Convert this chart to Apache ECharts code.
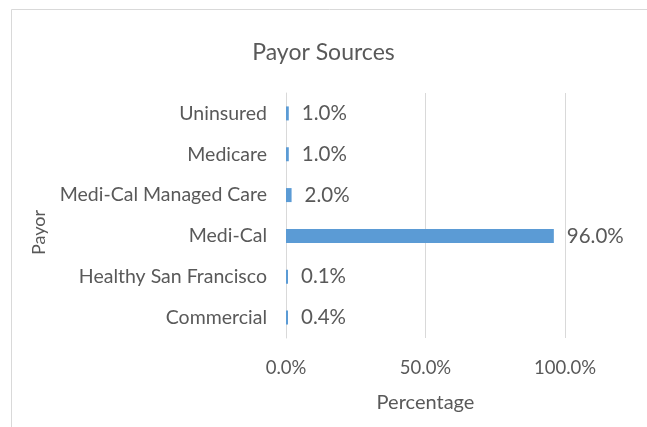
<!DOCTYPE html>
<html>
<head>
<meta charset="utf-8">
<script src="https://cdn.jsdelivr.net/npm/echarts@6/dist/echarts.min.js"></script>
<style>
    html, body { margin: 0; padding: 0; background: #fff; }
    #chart { width: 647px; height: 427px; }
</style>
</head>
<body>
<div id="chart"></div>
<script>
    // 付款来源数据（从下到上）
    var payors = ['Commercial', 'Healthy San Francisco', 'Medi-Cal', 'Medi-Cal Managed Care', 'Medicare', 'Uninsured'];
    var percents = [0.4, 0.1, 96.0, 2.0, 1.0, 1.0];
    var xTicks = [0, 50, 100];

    var textColor = '#595959';
    var font = 'Lato';

    var myChart = echarts.init(document.getElementById('chart'));
    myChart.setOption({
        backgroundColor: '#fff',
        textStyle: { fontFamily: font },
        title: {
            text: 'Payor Sources',
            left: 'center',
            top: 36,
            textStyle: { fontFamily: font, fontSize: 23, fontWeight: 'normal', color: textColor }
        },
        // 图表外框（只露出上边和左边）
        graphic: [{
            type: 'rect',
            shape: { x: 11.5, y: 9.5, width: 700, height: 500 },
            style: { fill: 'none', stroke: '#d9d9d9', lineWidth: 1 },
            silent: true
        }],
        grid: { left: 286, right: 82, top: 93, bottom: 89 },
        xAxis: {
            type: 'value',
            min: xTicks[0],
            max: xTicks[xTicks.length - 1],
            interval: 50,
            name: 'Percentage',
            nameLocation: 'middle',
            nameGap: 55,
            nameTextStyle: { fontFamily: font, fontSize: 20, color: textColor },
            axisLine: { show: false },
            axisTick: { show: false },
            axisLabel: {
                margin: 21,
                fontFamily: font,
                fontSize: 18.5,
                color: textColor,
                formatter: function (v) { return v.toFixed(1) + '%'; }
            },
            splitLine: { show: true, lineStyle: { color: '#d9d9d9', width: 1 } }
        },
        yAxis: {
            type: 'category',
            data: payors,
            name: 'Payor',
            nameLocation: 'middle',
            nameGap: 238,
            nameRotate: 90,
            nameTextStyle: { fontFamily: font, fontSize: 18, color: textColor, padding: [0, 0, 0, -34] },
            axisLine: { show: true, lineStyle: { color: '#d9d9d9', width: 1 } },
            axisTick: { show: false },
            axisLabel: { margin: 19, fontFamily: font, fontSize: 19.5, color: textColor }
        },
        series: [{
            name: 'Payor Sources',
            type: 'bar',
            data: percents,
            barWidth: 14,
            barMinHeight: 2,
            itemStyle: { color: '#5b9bd5' },
            label: {
                show: true,
                position: 'right',
                distance: 13,
                fontFamily: font,
                fontSize: 20.5,
                color: textColor,
                formatter: function (p) { return p.value.toFixed(1) + '%'; }
            },
            silent: true
        }]
    });
</script>
</body>
</html>
